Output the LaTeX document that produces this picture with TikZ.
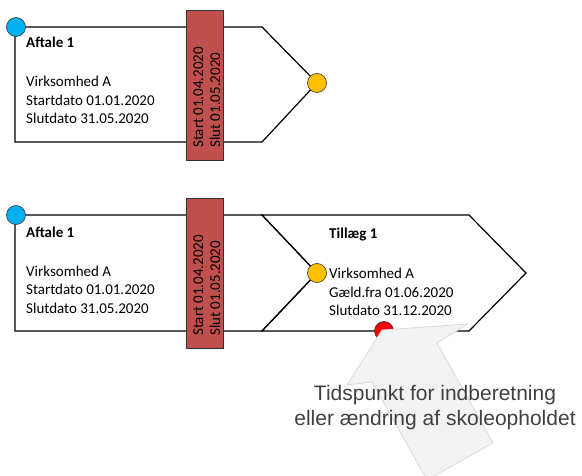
\documentclass[tikz,border=0pt]{standalone}
\usepackage{fontspec}
\setmainfont{Carlito}
\newfontfamily\calloutfont{Liberation Sans}
\usetikzlibrary{positioning}

\definecolor{barred}{HTML}{C0504D}
\definecolor{dotblue}{HTML}{00B0F0}
\definecolor{dotorange}{HTML}{FFC000}
\definecolor{dotred}{HTML}{FF0000}
\definecolor{calloutfill}{HTML}{F2F2F2}
\definecolor{calloutline}{HTML}{D9D9D9}
\definecolor{callouttext}{HTML}{404040}

\begin{document}
\begin{tikzpicture}[
    x=1pt, y=-1pt,
    outline/.style={line width=1.2pt, line join=miter},
    datebar/.style={rectangle, draw=black!80, line width=0.8pt, fill=barred, minimum width=37pt, minimum height=150pt, inner sep=0pt},
    bartext/.style={rotate=90, anchor=base west, align=left, inner sep=0pt, font=\fontsize{15}{17}\selectfont},
    dot/.style={circle, draw=black!80, line width=0.6pt, minimum size=19pt, inner sep=0pt},
    title/.style={anchor=base west, inner sep=0pt, font=\fontsize{15}{18}\selectfont\bfseries},
    body/.style={anchor=base west, inner sep=0pt, align=left, font=\fontsize{15}{18.5}\selectfont},
    callout/.style={fill=calloutfill, draw=calloutline, line width=0.8pt, line join=miter},
    callouttext/.style={anchor=base, align=center, inner sep=0pt, text=callouttext, font=\calloutfont\fontsize{21}{25}\selectfont}
]
\useasboundingbox (0,0) rectangle (582,476);

% Top row: agreement only
\draw [outline] (15,27) -- (262,27) -- (317,83) -- (262,142) -- (15,142) -- cycle;
\node [datebar] (bar1) at (204.5,85) {};
\node [bartext] (bar1text) at (220,148) {Start 01.04.2020\\Slut 01.05.2020};
\node [title] (a1title) at (26,48) {Aftale 1};
\node [body] (a1body) at (26,124) {Virksomhed A\\Startdato 01.01.2020\\Slutdato 31.05.2020};
\node [dot, fill=dotblue] (a1start) at (16,27) {};
\node [dot, fill=dotorange] (a1end) at (317,83) {};

% Bottom row: agreement with addendum
\draw [outline] (15,215) -- (262,215) -- (317,273) -- (262,331) -- (15,331) -- cycle;
\draw [outline] (262,215) -- (469,215) -- (526,273) -- (469,331) -- (262,331) -- (317,273) -- cycle;
\node [datebar] (bar2) at (204.5,273) {};
\node [bartext] (bar2text) at (220,336) {Start 01.04.2020\\Slut 01.05.2020};
\node [title] (a2title) at (26,238) {Aftale 1};
\node [body] (a2body) at (26,313) {Virksomhed A\\Startdato 01.01.2020\\Slutdato 31.05.2020};
\node [title] (t1title) at (329,239) {Tillæg 1};
\node [body] (t1body) at (329,316) {Virksomhed A\\Gæld.fra 01.06.2020\\Slutdato 31.12.2020};
\node [dot, fill=dotblue] (a2start) at (16,215) {};
\node [dot, fill=dotorange] (a2end) at (317,273) {};
\node [dot, fill=dotred] (report) at (384,331) {};

% Big arrow pointing at the report time
\begin{scope}
\clip (0,0) rectangle (582,476);
\draw [callout] (382,330) -- (468,324) -- (437,343) -- (493,443) -- (427,480) -- (372,382) -- (347,385) -- cycle;
\end{scope}
\node [callouttext] (note) at (435,425) {Tidspunkt for indberetning\\eller ændring af skoleopholdet};

\end{tikzpicture}
\end{document}
